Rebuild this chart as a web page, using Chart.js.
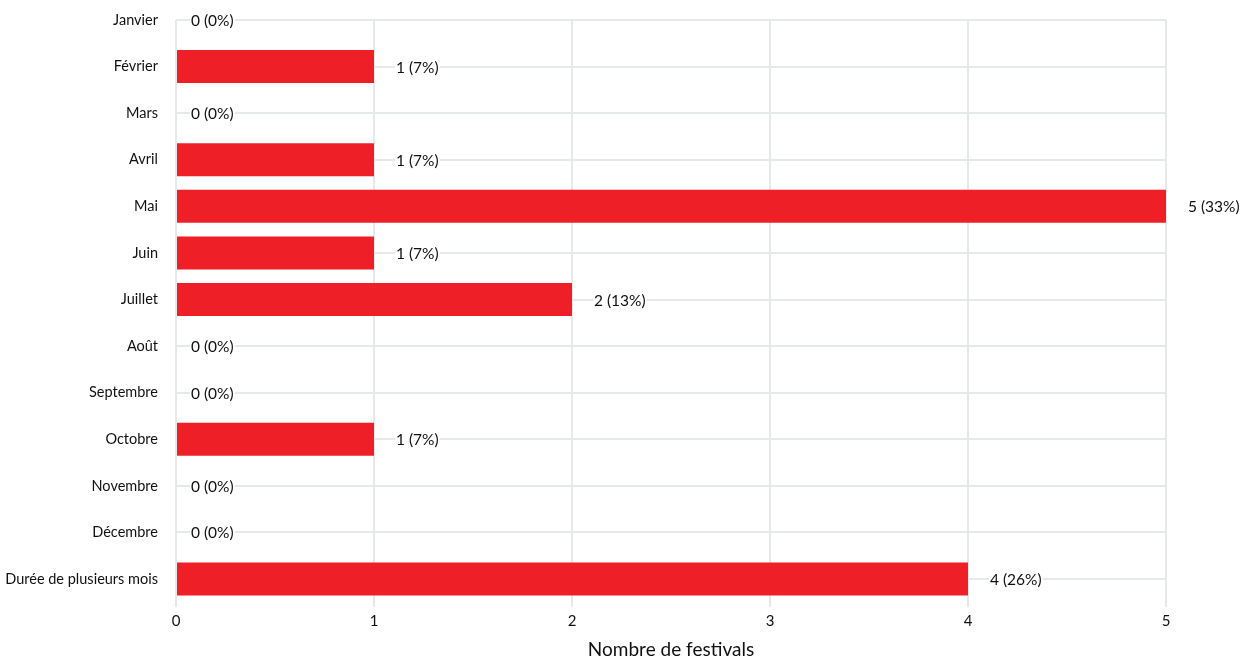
<!DOCTYPE html>
<html lang="fr">
<head>
<meta charset="utf-8">
<title>Nombre de festivals par mois</title>
<script src="https://cdn.jsdelivr.net/npm/chart.js@4"></script>
<style>
  html, body { margin: 0; padding: 0; background: #fff; }
  #wrap { width: 1246px; height: 659px; }
</style>
</head>
<body>
<div id="wrap"><canvas id="chart"></canvas></div>
<script>
// Festivals par mois de début (barres horizontales)
const MONTHS = [
  "Janvier", "Février", "Mars", "Avril", "Mai", "Juin", "Juillet",
  "Août", "Septembre", "Octobre", "Novembre", "Décembre", "Durée de plusieurs mois",
]
const COUNTS = [0, 1, 0, 1, 5, 1, 2, 0, 0, 1, 0, 0, 4]
const PERCENTS = [0, 7, 0, 7, 33, 7, 13, 0, 0, 7, 0, 0, 26]
const X_TICKS = [0, 1, 2, 3, 4, 5]

const RED = "#ee1f27"
const INK = "#111111"
const GRID = "#e6e9e9"
const FONT = "Lato, 'Noto Sans', sans-serif"

// étiquettes "n (p%)" à droite de chaque barre, sur fond blanc
const valueLabels = {
  id: "valueLabels",
  afterDatasetsDraw(chart) {
    const { ctx } = chart
    const meta = chart.getDatasetMeta(0)
    ctx.save()
    ctx.font = `15.5px ${FONT}`
    ctx.textBaseline = "middle"
    meta.data.forEach((bar, i) => {
      const text = `${COUNTS[i]} (${PERCENTS[i]}%)`
      const x = bar.x + (COUNTS[i] ? 22 : 15)
      const w = ctx.measureText(text).width
      ctx.fillStyle = "#fff"
      ctx.fillRect(x - 1, bar.y - 4, w + 2, 8)
      ctx.fillStyle = INK
      ctx.fillText(text, x, bar.y + 1)
    })
    ctx.restore()
  },
}

new Chart(document.getElementById("chart"), {
  type: "bar",
  data: {
    labels: MONTHS,
    datasets: [
      {
        data: COUNTS,
        backgroundColor: RED,
        barThickness: 33,
        borderSkipped: false,
        inflateAmount: 0,
        clip: false,
      },
    ],
  },
  options: {
    responsive: true,
    maintainAspectRatio: false,
    animation: false,
    indexAxis: "y",
    layout: { padding: { top: 20, right: 80, left: 0, bottom: 0 } },
    plugins: { legend: { display: false }, tooltip: { enabled: false } },
    scales: {
      x: {
        min: 0,
        max: 5,
        afterFit: (s) => { s.height = 80 },
        afterBuildTicks: (s) => { s.ticks = X_TICKS.map((v) => ({ value: v })) },
        grid: { color: GRID, lineWidth: 2, tickLength: 28 },
        border: { display: false },
        ticks: { color: INK, padding: 5, font: { family: FONT, size: 15 } },
        title: {
          display: true,
          text: "Nombre de festivals",
          color: INK,
          padding: { top: 0, bottom: 0 },
          font: { family: FONT, size: 19, lineHeight: 1 },
        },
      },
      y: {
        offset: false,
        afterFit: (s) => {
          s.width = 176
          s.paddingTop = 0
          s.paddingBottom = 0
        },
        grid: { color: GRID, lineWidth: 2, drawTicks: false, offset: false },
        border: { display: false },
        ticks: { color: INK, padding: 18, font: { family: FONT, size: 14.5 } },
      },
    },
  },
  plugins: [valueLabels],
})
</script>
</body>
</html>
